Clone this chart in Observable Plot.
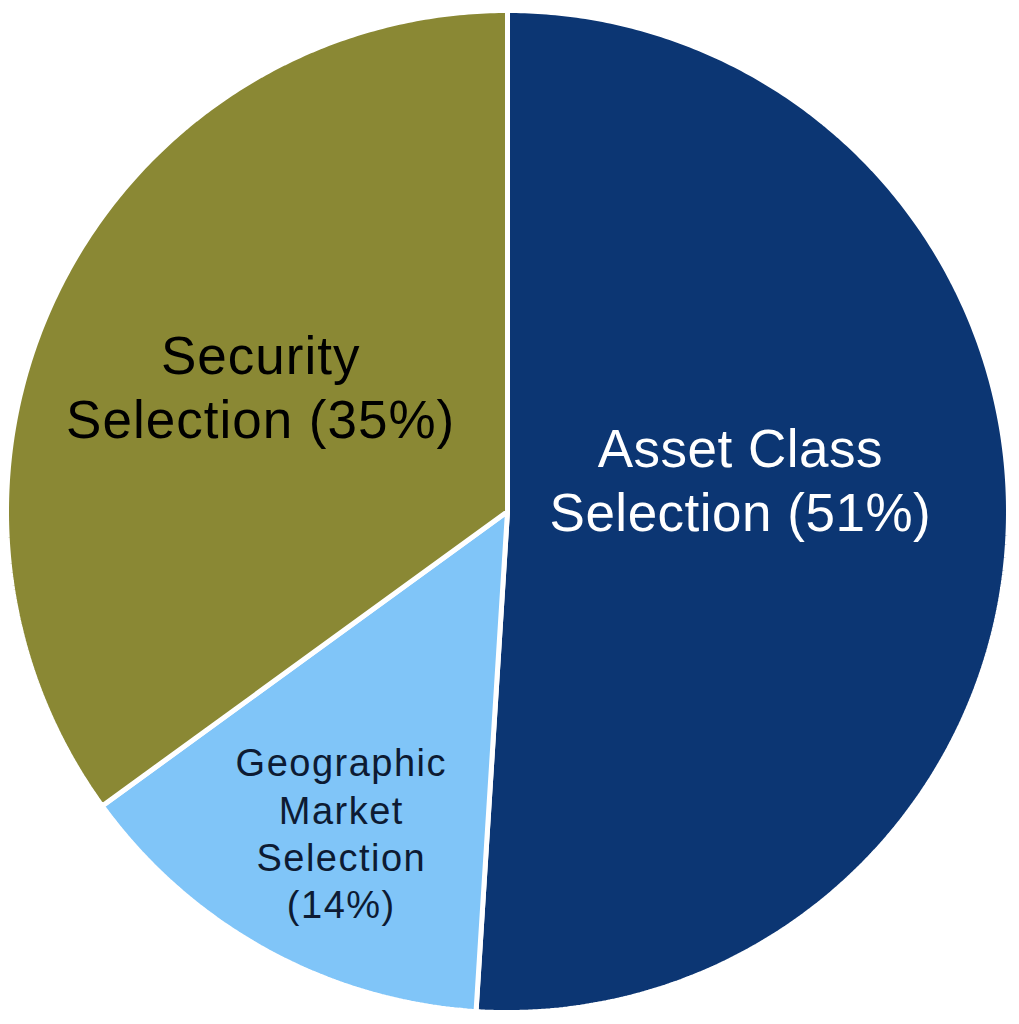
<!DOCTYPE html>
<html>
<head>
<meta charset="utf-8">
<script src="https://cdn.jsdelivr.net/npm/d3@7"></script>
<script src="https://cdn.jsdelivr.net/npm/@observablehq/plot@0.6"></script>
<style>
  html, body { margin: 0; padding: 0; background: #ffffff; }
  #chart { width: 1019px; height: 1024px; }
</style>
</head>
<body>
<div id="chart"></div>
<script>
// ---- data ----
const categories = ["Asset Class Selection", "Geographic Market Selection", "Security Selection"];
const shares = [51, 14, 35];
const labels = ["Asset Class\nSelection (51%)", "Geographic\nMarket\nSelection\n(14%)", "Security\nSelection (35%)"];

// ---- styles ----
const colors = ["#0c3673", "#80c5f8", "#8a8834"];
const textColors = ["#ffffff", "#0d1b33", "#000000"];
const labelStyle = [
  {r: 0.465, dx: 0, dy: -40, fontSize: 53, lineHeight: 1.2, letterSpacing: 0.5},
  {r: 0.73, dx: 10, dy: 0, fontSize: 38, lineHeight: 1.24, letterSpacing: 1.5},
  {r: 0.553, dx: 0, dy: 0, fontSize: 53, lineHeight: 1.2, letterSpacing: 1}
];

// ---- geometry built from the data ----
const arcs = d3.pie().sort(null).startAngle(0).endAngle(2 * Math.PI)(shares);
const slices = arcs.map((a, i) => {
  const ring = [[0, 0]];
  const n = Math.max(2, Math.ceil((a.endAngle - a.startAngle) / (Math.PI / 360)));
  for (let k = 0; k <= n; k++) {
    const t = a.startAngle + (a.endAngle - a.startAngle) * k / n;
    ring.push([Math.sin(t), Math.cos(t)]);
  }
  ring.push([0, 0]);
  return {type: "Feature", properties: {category: categories[i]}, geometry: {type: "Polygon", coordinates: [ring]}};
});
const labelData = arcs.map((a, i) => {
  const mid = (a.startAngle + a.endAngle) / 2;
  const r = labelStyle[i].r;
  return {category: categories[i], label: labels[i], x: r * Math.sin(mid), y: r * Math.cos(mid)};
});

const textMarks = labelData.map((d, i) => Plot.text([d], {
  x: "x", y: "y", text: "label",
  fill: textColors[i],
  fontSize: labelStyle[i].fontSize,
  lineHeight: labelStyle[i].lineHeight,
  textAnchor: "middle",
  lineAnchor: "middle",
  dx: labelStyle[i].dx,
  dy: labelStyle[i].dy
}));

const chart = Plot.plot({
  width: 1019,
  height: 1024,
  marginLeft: 6,
  marginRight: 11,
  marginTop: 10,
  marginBottom: 12,
  style: {fontFamily: "'Liberation Sans', Arial, Helvetica, sans-serif", background: "#ffffff"},
  projection: {type: "reflect-y", domain: {type: "MultiPoint", coordinates: [[-1, -1], [1, 1]]}, inset: 0},
  color: {domain: categories, range: colors},
  marks: [
    Plot.geo(slices, {fill: d => d.properties.category, stroke: "#ffffff", strokeWidth: 5, strokeLinejoin: "miter"}),
    ...textMarks
  ]
});
d3.select(chart).selectAll('g[aria-label="text"]').each(function(_, i) {
  if (labelStyle[i]) this.setAttribute("letter-spacing", labelStyle[i].letterSpacing);
});
document.getElementById("chart").appendChild(chart);
</script>
</body>
</html>
